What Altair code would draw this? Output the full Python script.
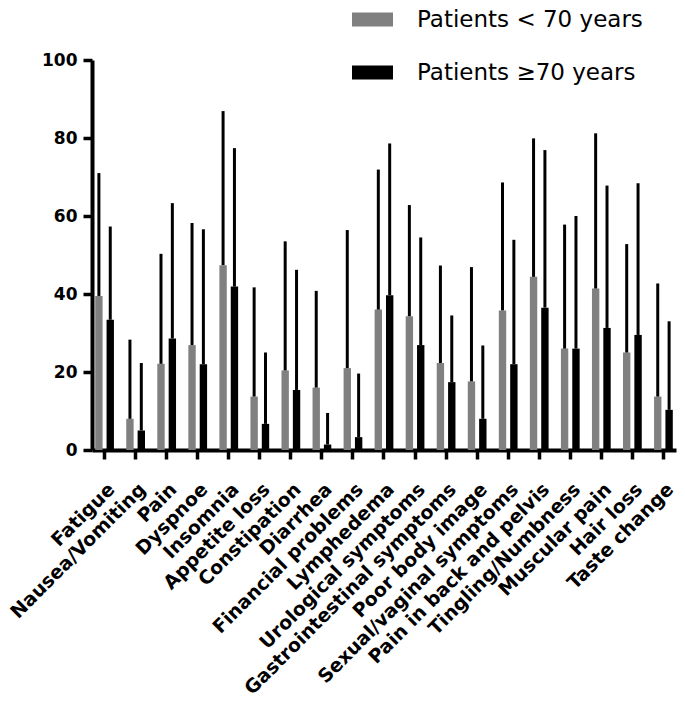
import altair as alt
import pandas as pd

categories = ["Fatigue", "Nausea/Vomiting", "Pain", "Dyspnoe", "Insomnia", "Appetite loss",
              "Constipation", "Diarrhea", "Financial problems", "Lymphedema",
              "Urological symptoms", "Gastrointestinal symptoms", "Poor body image",
              "Sexual/vaginal symptoms", "Pain in back and pelvis", "Tingling/Numbness",
              "Muscular pain", "Hair loss", "Taste change"]
groups = ["Patients < 70 years", "Patients \u226570 years"]

young_mean = [39.5, 8.0, 22.1, 26.9, 47.4, 13.7, 20.4, 16.0, 21.0, 36.0,
              34.3, 22.3, 17.6, 35.8, 44.4, 26.0, 41.4, 25.0, 13.7]
young_upper = [71.0, 28.3, 50.3, 58.2, 86.9, 41.7, 53.5, 40.8, 56.4, 71.9,
               62.8, 47.3, 46.9, 68.6, 79.9, 57.8, 81.2, 52.8, 42.7]
old_mean = [33.4, 5.0, 28.6, 22.0, 41.9, 6.7, 15.4, 1.4, 3.3, 39.7,
            26.9, 17.4, 8.0, 22.0, 36.5, 26.0, 31.3, 29.5, 10.3]
old_upper = [57.3, 22.3, 63.3, 56.6, 77.4, 25.0, 46.2, 9.5, 19.6, 78.6,
             54.5, 34.5, 26.8, 53.9, 76.9, 60.0, 67.8, 68.4, 33.0]

rows = []
for i, c in enumerate(categories):
    rows.append({"cat": c, "group": groups[0], "mean": young_mean[i], "upper": young_upper[i]})
    rows.append({"cat": c, "group": groups[1], "mean": old_mean[i], "upper": old_upper[i]})
df = pd.DataFrame(rows)

FONT = "DejaVu Sans"

x_enc = alt.X("cat:N", sort=categories,
              scale=alt.Scale(paddingInner=0.25, paddingOuter=0.03),
              axis=alt.Axis(title=None, labelAngle=-45, labelAlign="right", labelBaseline="middle",
                            labelFont=FONT, labelFontWeight="bold", labelFontSize=19,
                            labelColor="black", labelPadding=27, labelOffset=7,
                            labelOverlap=False, labelLimit=0,
                            tickSize=9, tickWidth=3.5, tickColor="black",
                            domainWidth=4, domainColor="black"))
xo_enc = alt.XOffset("group:N", sort=groups,
                     scale=alt.Scale(paddingInner=0.35, paddingOuter=0.2))

base = alt.Chart(df).encode(x=x_enc, xOffset=xo_enc)

bars = base.mark_bar().encode(
    y=alt.Y("mean:Q", scale=alt.Scale(domain=[0, 100], nice=False),
            axis=alt.Axis(title=None, values=[0, 20, 40, 60, 80, 100], grid=False,
                          labelFont=FONT, labelFontWeight="bold", labelFontSize=17,
                          labelColor="black", labelPadding=6,
                          tickSize=9, tickWidth=3.5, tickColor="black",
                          domainWidth=4, domainColor="black")),
    color=alt.Color("group:N", sort=groups,
                    scale=alt.Scale(domain=groups, range=["#808080", "#000000"]),
                    legend=alt.Legend(title=None, orient="none", legendX=260, legendY=-61,
                                      symbolType="M-1,-0.34L1,-0.34L1,0.34L-1,0.34Z",
                                      symbolSize=1681, symbolStrokeWidth=0, symbolOpacity=1,
                                      labelFont=FONT, labelFontSize=23, labelColor="black",
                                      labelOffset=24, rowPadding=20, labelLimit=400)),
)

err = base.mark_rule(strokeWidth=3, color="black").encode(
    y="mean:Q", y2="upper:Q"
)

chart = alt.layer(bars, err).properties(
    width=584, height=390,
    autosize="none",
    padding={"left": 84, "top": 52, "right": 1, "bottom": 243},
).configure_view(stroke=None)

chart.save("out.html", embed_options={"renderer": "svg", "actions": False})
